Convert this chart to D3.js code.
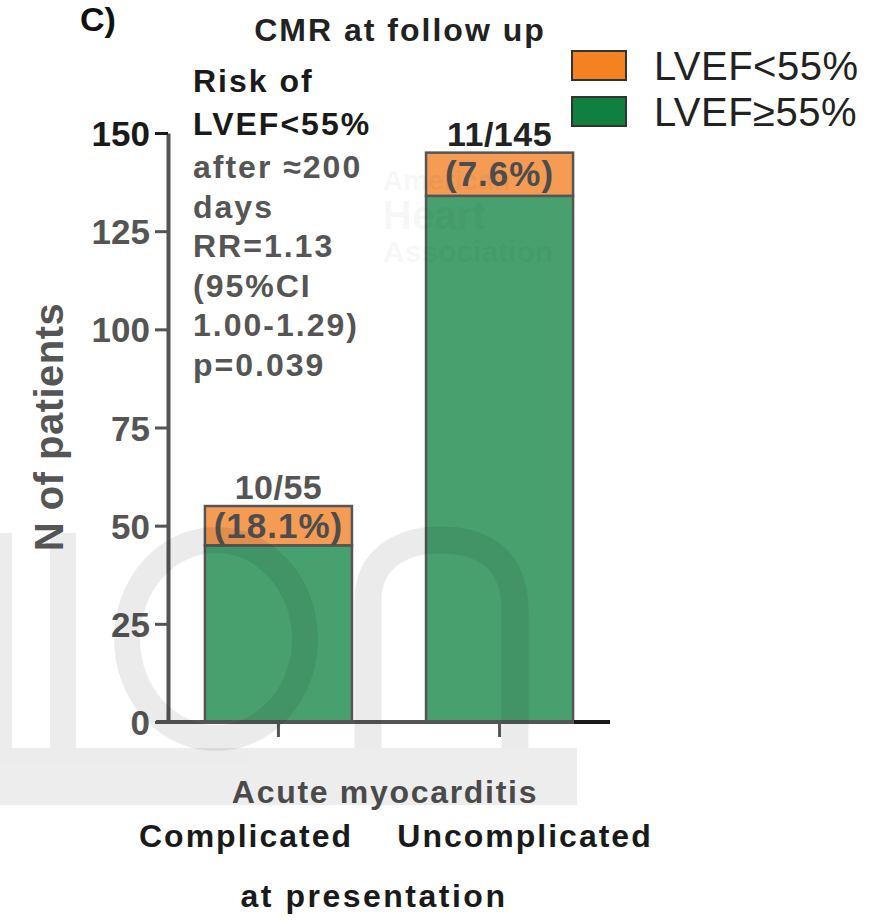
<!DOCTYPE html>
<html>
<head>
<meta charset="utf-8" />
<title>CMR at follow up</title>
<script src="https://d3js.org/d3.v7.min.js"></script>
<style>
  body, html {
    margin: 0;
    background: #ffffff;
    font-family: 'Liberation Sans', Arial, sans-serif;
  }
  text { font-family: 'Liberation Sans', Arial, sans-serif; }
</style>
</head>
<body>
<svg id="viz"></svg>

<script>

// chart values
var categories = ["Complicated", "Uncomplicated"];
var lvefLow = [10, 11];        // LVEF<55%
var lvefNormal = [45, 134];    // LVEF>=55%
var fracLabels = ["10/55", "11/145"];
var pctLabels = ["(18.1%)", "(7.6%)"];
var seriesNames = ["LVEF<55%", "LVEF\u226555%"];
var yTicks = [0, 25, 50, 75, 100, 125, 150];
var noteBold = ["Risk of", "LVEF<55%"];
var noteLines = ["after \u2248200", "days", "RR=1.13", "(95%CI", "1.00-1.29)", "p=0.039"];

var width = 884,
  height = 922;

var svg = d3.select("#viz")
  .attr("width", width)
  .attr("height", height);

// faint watermark behind the chart
var wm = svg.append("g").attr("fill", "#000").attr("opacity", 0.07);
wm.append("rect").attr("x", 0).attr("y", 748).attr("width", 577).attr("height", 57);
wm.append("rect").attr("x", 0).attr("y", 533).attr("width", 12).attr("height", 215);
wm.append("rect").attr("x", 50).attr("y", 533).attr("width", 26).attr("height", 215);

var rows = categories.map(function(c, i) {
  return { cat: c, low: lvefLow[i], normal: lvefNormal[i] };
});

var stack = d3.stack().keys(["normal", "low"]);
var layers = stack(rows);

var x = d3.scaleBand()
  .domain(categories)
  .range([168, 610])
  .paddingInner(0.335)
  .paddingOuter(0.167);

var y = d3.scaleLinear()
  .domain([0, 150])
  .range([722, 133]);

var fills = { normal: "#48a06e", low: "#f59b54" };

svg.append("g")
  .selectAll("g")
  .data(layers)
  .enter().append("g")
    .attr("fill", function(d) { return fills[d.key]; })
  .selectAll("rect")
  .data(function(d) { return d; })
  .enter().append("rect")
    .attr("x", function(d) { return x(d.data.cat); })
    .attr("y", function(d) { return y(d[1]); })
    .attr("width", x.bandwidth())
    .attr("height", function(d) { return y(d[0]) - y(d[1]); })
    .attr("stroke", "#555")
    .attr("stroke-width", 2.5);

// y axis
var yAxis = svg.append("g")
  .attr("transform", "translate(168,0)")
  .call(d3.axisLeft(y).tickValues(yTicks).tickSize(13).tickSizeOuter(0).tickPadding(5));
yAxis.select(".domain").attr("stroke", "#555").attr("stroke-width", 4);
yAxis.selectAll(".tick line").attr("stroke", "#555").attr("stroke-width", 3);
yAxis.selectAll(".tick text")
  .attr("font-size", 35)
  .attr("font-weight", "bold")
  .attr("fill", function(d) { return d === 150 ? "#1a1a1a" : "#555"; })
  .attr("dy", "0.36em");
yAxis.selectAll(".tick").filter(function(d) { return d === 150; })
  .select("line").attr("stroke", "#1a1a1a");

// x axis
var xAxis = svg.append("g")
  .attr("transform", "translate(0,722)")
  .call(d3.axisBottom(x).tickSize(15).tickSizeOuter(0).tickFormat(""));
xAxis.select(".domain")
  .attr("d", "M156,0H610")
  .attr("stroke", "#555")
  .attr("stroke-width", 4);
xAxis.selectAll(".tick line").attr("stroke", "#555").attr("stroke-width", 3);
xAxis.append("path")
  .attr("d", "M" + (x.range()[1] - 36) + ",0H" + x.range()[1])
  .attr("stroke", "#1a1a1a")
  .attr("stroke-width", 4);

// watermark letters on top (semi transparent)
var wm2 = svg.append("g").attr("fill", "none").attr("stroke", "#000").attr("stroke-opacity", 0.08);
wm2.append("ellipse").attr("cx", 216).attr("cy", 639).attr("rx", 89).attr("ry", 99).attr("stroke-width", 26);
wm2.append("path")
  .attr("d", "M368,748V600C368,560 400,540 440,540C490,540 515,565 515,610V748")
  .attr("stroke-width", 27);

// AHA watermark
var aha = svg.append("g").attr("fill", "#000").attr("fill-opacity", 0.05).attr("font-weight", "bold");
aha.append("text").attr("x", 383).attr("y", 190).attr("font-size", 28).text("American");
aha.append("text").attr("x", 383).attr("y", 229).attr("font-size", 40).text("Heart");
aha.append("text").attr("x", 383).attr("y", 262).attr("font-size", 30).text("Association");

// bar labels
svg.append("g").selectAll("text")
  .data(rows)
  .enter().append("text")
    .attr("x", function(d) { return x(d.cat) + x.bandwidth() / 2; })
    .attr("y", function(d) { return y(d.low + d.normal) - 7; })
    .attr("text-anchor", "middle")
    .attr("font-size", 34)
    .attr("letter-spacing", 0.5)
    .attr("font-weight", "bold")
    .attr("fill", function(d, i) { return i === 1 ? "#222" : "#555"; })
    .text(function(d, i) { return fracLabels[i]; });

svg.append("g").selectAll("text")
  .data(rows)
  .enter().append("text")
    .attr("x", function(d) { return x(d.cat) + x.bandwidth() / 2; })
    .attr("y", function(d) { return y(d.normal + d.low / 2) + 12; })
    .attr("text-anchor", "middle")
    .attr("font-size", 35)
    .attr("letter-spacing", 1)
    .attr("font-weight", "bold")
    .attr("fill", "#4d4d4d")
    .text(function(d, i) { return pctLabels[i]; });

// annotation block
var note = svg.append("g").attr("font-weight", "bold").attr("font-size", 32).attr("letter-spacing", 2);
note.selectAll("text.b")
  .data(noteBold)
  .enter().append("text")
    .attr("class", "b")
    .attr("x", 193)
    .attr("y", function(d, i) { return 92 + i * 43; })
    .attr("fill", "#1a1a1a")
    .text(function(d) { return d; });
note.selectAll("text.n")
  .data(noteLines)
  .enter().append("text")
    .attr("class", "n")
    .attr("x", 193)
    .attr("y", function(d, i) { return 178 + i * 39.5; })
    .attr("fill", "#555")
    .text(function(d) { return d; });

// title and panel letter
svg.append("text")
  .attr("x", 80).attr("y", 31)
  .attr("font-size", 34).attr("font-weight", "bold").attr("fill", "#111")
  .text("C)");
svg.append("text")
  .attr("x", 400).attr("y", 41)
  .attr("text-anchor", "middle")
  .attr("font-size", 32).attr("letter-spacing", 2).attr("font-weight", "bold").attr("fill", "#222")
  .text("CMR at follow up");

// legend
var legendColors = ["#f58220", "#0f8040"];
var legend = svg.append("g");
legend.selectAll("rect")
  .data(seriesNames)
  .enter().append("rect")
    .attr("x", 572)
    .attr("y", function(d, i) { return 51 + i * 46; })
    .attr("width", 54)
    .attr("height", 29)
    .attr("fill", function(d, i) { return legendColors[i]; })
    .attr("stroke", "#333")
    .attr("stroke-width", 2);
legend.selectAll("text")
  .data(seriesNames)
  .enter().append("text")
    .attr("x", 654)
    .attr("y", function(d, i) { return 80 + i * 46; })
    .attr("font-size", 40)
    .attr("letter-spacing", 0.5)
    .attr("fill", "#222")
    .text(function(d) { return d; });

// y axis title
svg.append("text")
  .attr("transform", "translate(63,427) rotate(-90)")
  .attr("text-anchor", "middle")
  .attr("font-size", 40)
  .attr("letter-spacing", 0.5)
  .attr("font-weight", "bold")
  .attr("fill", "#555")
  .text("N of patients");

// x axis labels
var xLab = svg.append("g")
  .attr("font-size", 32)
  .attr("font-weight", "bold")
  .attr("text-anchor", "middle");
xLab.append("text")
  .attr("x", 385).attr("y", 803)
  .attr("letter-spacing", 1.7)
  .attr("fill", "#4a4a4a")
  .text("Acute myocarditis");
xLab.selectAll("text.cat")
  .data(categories)
  .enter().append("text")
    .attr("class", "cat")
    .attr("x", function(d, i) { return i === 0 ? 246 : 525; })
    .attr("y", 847)
    .attr("letter-spacing", 2)
    .attr("fill", "#1a1a1a")
    .text(function(d) { return d; });
xLab.append("text")
  .attr("x", 374).attr("y", 907)
  .attr("letter-spacing", 2.5)
  .attr("fill", "#1a1a1a")
  .text("at presentation");

</script>
</body>
</html>
